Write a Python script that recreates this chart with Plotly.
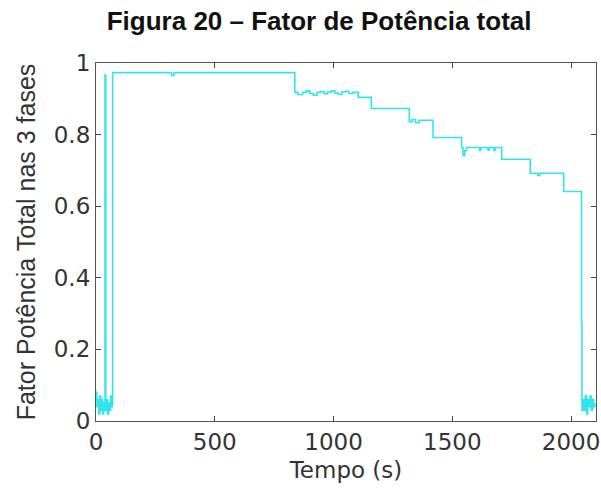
import plotly.graph_objects as go

# Time (s) and total power factor (step data, held until next time)
tempo = [0, 4, 8, 12, 16, 20, 24, 28, 32, 36, 38, 41, 45, 49, 53, 57, 61, 65,
         70, 318, 328, 837,
         850, 870, 885, 900, 915, 930, 945, 960, 975, 990, 1005, 1020, 1035, 1050, 1065, 1080,
         1104, 1159, 1319, 1330, 1345, 1360, 1419, 1539, 1545, 1552, 1560,
         1615, 1620, 1650, 1655, 1675, 1680, 1708, 1828, 1860, 1868, 1969, 2044, 2046, 2050,
         2055, 2060, 2065, 2070, 2075, 2080, 2085, 2090, 2095, 2100]
fator = [0.08, 0.04, 0.06, 0.02, 0.07, 0.03, 0.06, 0.02, 0.05, 0.03, 0.966, 0.03, 0.06, 0.02, 0.05, 0.03, 0.07, 0.04,
         0.973, 0.965, 0.973, 0.918,
         0.912, 0.918, 0.922, 0.915, 0.910, 0.918, 0.920, 0.914, 0.919, 0.922, 0.916, 0.912, 0.919, 0.921, 0.915, 0.918,
         0.904, 0.873, 0.836, 0.842, 0.833, 0.840, 0.792, 0.764, 0.742, 0.755, 0.764,
         0.756, 0.764, 0.757, 0.764, 0.756, 0.764, 0.731, 0.692, 0.686, 0.692, 0.641, 0.273, 0.03, 0.06,
         0.03, 0.07, 0.02, 0.06, 0.04, 0.07, 0.03, 0.06, 0.04, 0.05]

x_ticks = [0, 500, 1000, 1500, 2000]
y_ticks = [0, 0.2, 0.4, 0.6, 0.8, 1]
y_tick_labels = ["0", "0.2", "0.4", "0.6", "0.8", "1"]

LBL = "DejaVu Sans, sans-serif"
ARIAL = "Liberation Sans, Arial, sans-serif"

fig = go.Figure()
fig.add_trace(go.Scatter(x=tempo, y=fator, mode="lines", line_shape="hv",
                         line=dict(color="rgb(50,228,235)", width=1.6),
                         showlegend=False, hoverinfo="skip"))

axis_common = dict(showgrid=False, zeroline=False, showline=True, linecolor="#555",
                   linewidth=1.2, mirror="ticks", ticks="inside", ticklen=5,
                   tickcolor="#444", tickwidth=1, automargin=False,
                   tickfont=dict(family=LBL, size=23, color="#333"))

fig.update_layout(
    width=601, height=488,
    paper_bgcolor="white", plot_bgcolor="white",
    margin=dict(l=96, r=5, t=63, b=67),
    title=dict(text="<b>Figura 20 – Fator de Potência total</b>",
               x=0.531, xref="container", y=1 - 20.5 / 488, yref="container",
               yanchor="middle", xanchor="center", automargin=False,
               font=dict(family=ARIAL, size=26, color="#111")),
    xaxis=dict(range=[0, 2105], tickvals=x_ticks,
               title=dict(text="Tempo (s)", standoff=8,
                          font=dict(family=LBL, size=23, color="#333")),
               **axis_common),
    yaxis=dict(range=[0, 1], tickvals=y_ticks, ticktext=y_tick_labels,
               title=dict(text="Fator Potência Total nas 3 fases", standoff=10,
                          font=dict(family=ARIAL, size=25, color="#333")),
               **axis_common),
)

fig.write_html("out.html", config={"displayModeBar": False},
               post_script="document.body.style.margin='0';document.body.style.overflow='hidden';")
